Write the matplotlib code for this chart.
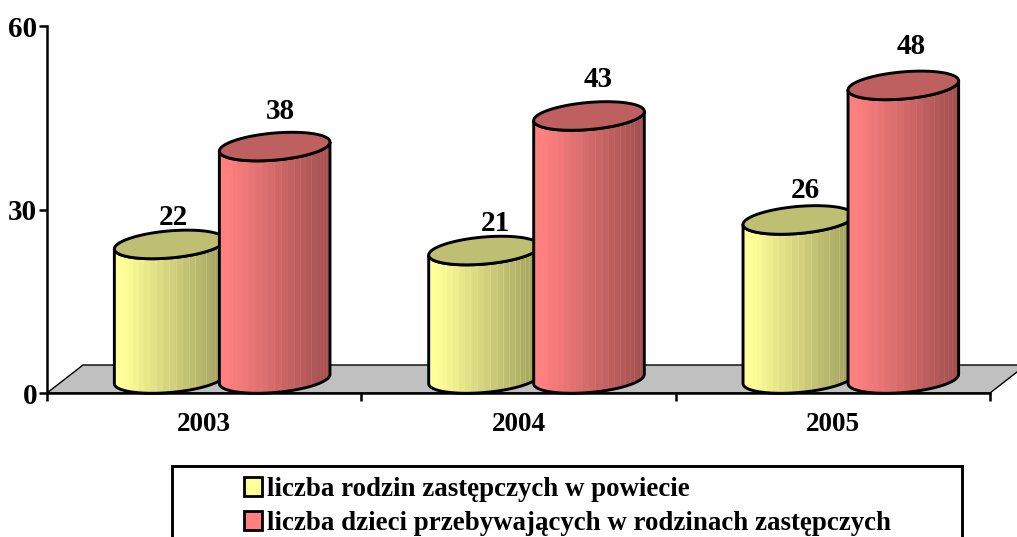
import numpy as np
import matplotlib
matplotlib.use("Agg")
import matplotlib.pyplot as plt
from matplotlib.patches import Patch, Polygon, Rectangle

W, H = 1017, 537

years = ["2003", "2004", "2005"]
rodziny = [22, 21, 26]
dzieci = [38, 43, 48]
y_ticks = [0, 30, 60]
label_rodziny = "liczba rodzin zastępczych w powiecie"
label_dzieci = "liczba dzieci przebywających w rodzinach zastępczych"

YELLOW = "#FFFF99"
RED = "#FF8080"

plt.rcParams["font.family"] = ["Liberation Serif", "DejaVu Serif"]
plt.rcParams["font.weight"] = "bold"

fig = plt.figure(figsize=(W / 100, H / 100), dpi=100)
ax = fig.add_axes([47 / W, (H - 393) / H, 943 / W, 367 / H])
ax.set_xlim(0, 3)
ax.set_ylim(0, 60)

# pixels per data unit, the cylinders and the floor are laid out in pixels
PX = 943 / 3
PY = 367 / 60


def ellipse_lower(a=55.5, b=13.5, phi=np.radians(5)):
    """Lower half of a tilted ellipse, left to right, in pixel offsets"""
    t0 = np.arctan2(-b * np.sin(phi), a * np.cos(phi))
    t = np.linspace(t0 - np.pi, t0, 80)
    x = a * np.cos(t) * np.cos(phi) - b * np.sin(t) * np.sin(phi)
    y = a * np.cos(t) * np.sin(phi) + b * np.sin(t) * np.cos(phi)
    return x, y


def ellipse_full(a=55.5, b=13.5, phi=np.radians(5)):
    t = np.linspace(0, 2 * np.pi, 160)
    x = a * np.cos(t) * np.cos(phi) - b * np.sin(t) * np.sin(phi)
    y = a * np.cos(t) * np.sin(phi) + b * np.sin(t) * np.cos(phi)
    return x, y


def shade(color, f):
    rgb = np.array(matplotlib.colors.to_rgb(color))
    return tuple(rgb * f)


def cylinder(cat_x, offset, value, color, z):
    """Draw one cylinder, offset in pixels from the category centre"""
    cx = cat_x + offset / PX
    base = 14 / PY
    top = base + value

    ex, ey = ellipse_lower()
    xb = xt = cx + ex / PX
    yb, yt = base + ey / PY, top + ey / PY

    ox = np.r_[xb, xt[::-1]]
    oy = np.r_[yb, yt[::-1]]

    # light backing: hides what is behind, the band seams show as pale lines
    ax.add_patch(Polygon(np.column_stack([ox, oy]), closed=True, facecolor=color,
                         edgecolor="none", zorder=z, clip_on=False))

    # side is a stack of vertical bands, narrower towards the edges
    theta = np.linspace(np.pi, 0, 27)
    edges = np.cos(theta) * 0.5 + 0.5
    x0, x1 = xb[0], xb[-1]
    for i in range(len(edges) - 1):
        xa = x0 + (x1 - x0) * edges[i]
        xc = x0 + (x1 - x0) * edges[i + 1]
        xs = np.linspace(xa, xc, 5)
        low = np.interp(xs, xb, yb)
        high = np.interp(xs, xt, yt)
        mid = (edges[i] + edges[i + 1]) / 2
        f = 1.0 if mid < 0.08 else 1.0 - 0.38 * (mid - 0.08) / 0.92
        pts = np.column_stack([np.r_[xs, xs[::-1]], np.r_[low, high[::-1]]])
        ax.add_patch(Polygon(pts, closed=True, facecolor=shade(color, f),
                             edgecolor="none", zorder=z + 0.01, clip_on=False))

    # black outline of the side
    ax.add_patch(Polygon(np.column_stack([ox, oy]), closed=True, fill=False,
                         edgecolor="black", lw=2.1, zorder=z + 0.1, clip_on=False))

    # top face
    fx, fy = ellipse_full()
    ax.add_patch(Polygon(np.column_stack([cx + fx / PX, top + fy / PY]), closed=True,
                         facecolor=shade(color, 0.75), edgecolor="black", lw=2.1,
                         zorder=z + 0.2, clip_on=False))


# grey floor
floor = [(0, 0), (3, 0), (3 + 36 / PX, 28 / PY), (36 / PX, 28 / PY)]
ax.add_patch(Polygon(floor, closed=True, facecolor="#C0C0C0", edgecolor="black",
                     lw=1.0, zorder=1, clip_on=False))

# small pixel nudges of the value labels, per category
shift_rodziny = [-3, 5, 0]
shift_dzieci = [-1, 3, 1]

centers = np.arange(len(years)) + 0.5
for i, c in enumerate(centers):
    cylinder(c, -34.5, rodziny[i], YELLOW, 2 + i)
    cylinder(c, 70.5, dzieci[i], RED, 2.5 + i)
    # value labels sit a bit above the top face
    ax.text(c + (shift_rodziny[i] - 28) / PX, (392 - (361 - 6.58 * rodziny[i])) / PY, str(rodziny[i]),
            ha="center", va="center", fontsize=21, fontweight="bold", zorder=10)
    ax.text(c + (shift_dzieci[i] + 77) / PX, (392 - (361 - 6.58 * dzieci[i])) / PY, str(dzieci[i]),
            ha="center", va="center", fontsize=21, fontweight="bold", zorder=10)

# axes
for s in ["top", "right"]:
    ax.spines[s].set_visible(False)
for s in ["left", "bottom"]:
    ax.spines[s].set_linewidth(1.8)
    ax.spines[s].set_zorder(9)
ax.patch.set_alpha(0)

ax.set_yticks(y_ticks)
ax.set_yticklabels([str(t) for t in y_ticks], fontsize=21, fontweight="bold")
ax.tick_params(axis="y", length=6, width=1.8, pad=1)
ax.set_xticks([0, 1, 2, 3])
ax.set_xticklabels([])
ax.tick_params(axis="x", which="major", length=6, width=1.8)
ax.set_xticks(centers, minor=True)
ax.set_xticklabels(years, minor=True, fontsize=19.5, fontweight="bold")
ax.tick_params(axis="x", which="minor", length=0, pad=14)

# legend box runs off the bottom edge of the picture
fig.add_artist(Rectangle((172 / W, -0.02), 790 / W, (H - 466) / H + 0.02,
                         transform=fig.transFigure, facecolor="white",
                         edgecolor="black", lw=2.1))
handles = [Patch(facecolor=YELLOW, edgecolor="black", lw=2.0, label=label_rodziny),
           Patch(facecolor=RED, edgecolor="black", lw=2.0, label=label_dzieci)]
fig.legend(handles=handles, loc="upper left", bbox_to_anchor=(244 / W, (H - 477) / H),
           frameon=False, fontsize=19.4, handlelength=0.67, handleheight=0.67,
           handletextpad=0.2, labelspacing=0.33, borderpad=0.0, borderaxespad=0.0)

fig.savefig("out.png", dpi=100)
